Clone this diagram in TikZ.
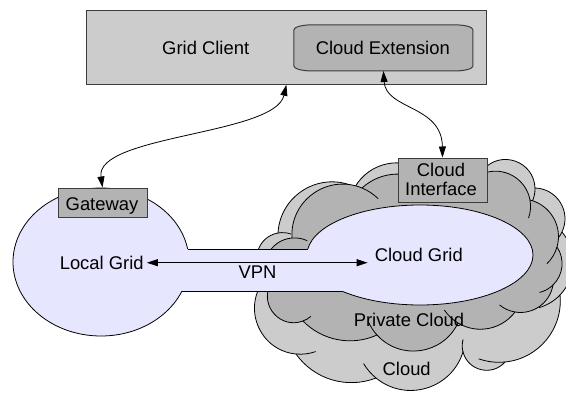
\documentclass[tikz,border=0pt]{standalone}
\usepackage{fontspec}
\setmainfont{Liberation Sans}
\usetikzlibrary{arrows.meta,shapes.geometric,calc}
\definecolor{paleGray}{HTML}{CCCCCC}
\definecolor{midGray}{HTML}{B3B3B3}
\definecolor{gridFill}{HTML}{E6E6FF}
\definecolor{boxEdge}{HTML}{3C3C3C}

% circular puff from #1 to #2, bulging to the left of travel by angle #3
\newcommand\puffseg[3]{.. controls ($(#1)!2/(3*(1+cos(#3)))!#3:(#2)$)
  and ($(#2)!2/(3*(1+cos(#3)))!-#3:(#1)$) .. (#2)}
% crease: the puff #1->#2 (bulge #3) carried on past #2 by an arc of #4 degrees
\newcommand\creaseFwd[4]{%
  \path ($(#2)!sin(#4/2)/sin(#3)!180-#3-#4/2:(#1)$) coordinate (creaseTip);
  \draw[cloudline] (#2) \puffseg{#2}{creaseTip}{#4/2};}
% crease: the puff #1->#2 (bulge #3) carried back before #1 by an arc of #4 degrees
\newcommand\creaseBwd[4]{%
  \path ($(#1)!sin(#4/2)/sin(#3)!#3+180+#4/2:(#2)$) coordinate (creaseTip);
  \draw[cloudline] (creaseTip) \puffseg{creaseTip}{#1}{#4/2};}

\begin{document}
\begin{tikzpicture}[x=1pt,y=-1pt,
  lbl/.style={font=\fontsize{18.4}{22}\selectfont, inner sep=0pt, anchor=base},
  graybox/.style={draw=boxEdge, line width=1pt, fill=midGray, inner sep=0pt},
  outline/.style={draw=black, line width=0.8pt},
  cloudline/.style={draw=black, line width=0.8pt},
  link/.style={line width=0.8pt,
    {Triangle[length=11pt,width=7pt]}-{Triangle[length=11pt,width=7pt]}},
]
\useasboundingbox (0,0) rectangle (566,394);

% ---- client box with the extension inside ----
\node[graybox, fill=paleGray, minimum width=399.3pt, minimum height=73.6pt] (client) at (286.35,47.5) {};
\node[lbl] (clientLabel) at (205.7,54.3) {Grid Client};
\node[inner sep=0pt, minimum width=178.7pt, minimum height=45.7pt] (ext) at (383.4,47.9) {};
\draw[boxEdge, line width=1pt, fill=midGray]
  ([yshift=-5pt]ext.north west) -- ([yshift=5pt]ext.south west)
  arc[start angle=180, end angle=270, x radius=18pt, y radius=5pt]
  -- ([xshift=-18pt]ext.south east)
  arc[start angle=270, end angle=360, x radius=18pt, y radius=5pt]
  -- ([yshift=-5pt]ext.north east)
  arc[start angle=0, end angle=90, x radius=18pt, y radius=5pt]
  -- ([xshift=18pt]ext.north west)
  arc[start angle=90, end angle=180, x radius=18pt, y radius=5pt] -- cycle;
\node[lbl] (extLabel) at (382.8,54.3) {Cloud Extension};

% ---- outer cloud ----
\coordinate (o1) at (296,354);  \coordinate (o2) at (266,278);
\coordinate (o3) at (278,233);  \coordinate (o4) at (355,187);
\coordinate (o5) at (425,172);  \coordinate (o6) at (483,170);
\coordinate (o7) at (535,188);  \coordinate (o8) at (562,232);
\coordinate (o9) at (560,295);  \coordinate (o10) at (505,362);
\coordinate (o11) at (463,352); \coordinate (o12) at (376,378);
\filldraw[cloudline, fill=paleGray] (o1) \puffseg{o1}{o2}{63} \puffseg{o2}{o3}{65}
  \puffseg{o3}{o4}{56} \puffseg{o4}{o5}{48} \puffseg{o5}{o6}{44} \puffseg{o6}{o7}{69}
  \puffseg{o7}{o8}{57} \puffseg{o8}{o9}{42} \puffseg{o9}{o10}{45} \puffseg{o10}{o11}{62}
  \puffseg{o11}{o12}{56} \puffseg{o12}{o1}{38} -- cycle;
\creaseFwd{o2}{o3}{65}{30}
\creaseFwd{o3}{o4}{56}{25}
\creaseFwd{o6}{o7}{69}{30}
\creaseFwd{o7}{o8}{57}{30}
\creaseFwd{o8}{o9}{42}{30}
\creaseFwd{o9}{o10}{45}{25}
\creaseFwd{o10}{o11}{62}{30}
\creaseFwd{o11}{o12}{56}{20}
\creaseBwd{o1}{o2}{63}{25}

% ---- private cloud ----
\coordinate (i1) at (303,321);  \coordinate (i2) at (270,285);
\coordinate (i3) at (292,238);  \coordinate (i4) at (362,188);
\coordinate (i5) at (430,185);  \coordinate (i6) at (488,172);
\coordinate (i7) at (530,200);  \coordinate (i8) at (557,247);
\coordinate (i9) at (553,285);  \coordinate (i10) at (515,312);
\coordinate (i11) at (458,323); \coordinate (i12) at (377,335);
\filldraw[cloudline, fill=midGray] (i1) \puffseg{i1}{i2}{68} \puffseg{i2}{i3}{60}
  \puffseg{i3}{i4}{58} \puffseg{i4}{i5}{40} \puffseg{i5}{i6}{40} \puffseg{i6}{i7}{46}
  \puffseg{i7}{i8}{46} \puffseg{i8}{i9}{40} \puffseg{i9}{i10}{45} \puffseg{i10}{i11}{42}
  \puffseg{i11}{i12}{56} \puffseg{i12}{i1}{35} -- cycle;
\creaseFwd{i2}{i3}{60}{30}
\creaseFwd{i3}{i4}{58}{22}
\creaseFwd{i6}{i7}{46}{30}
\creaseFwd{i7}{i8}{46}{30}
\creaseFwd{i8}{i9}{40}{30}
\creaseFwd{i9}{i10}{45}{30}
\creaseFwd{i10}{i11}{42}{25}
\creaseFwd{i11}{i12}{56}{18}
\creaseBwd{i1}{i2}{68}{20}

% ---- the two grids joined by the VPN tunnel ----
\node[ellipse, outline, fill=gridFill, minimum width=176pt, minimum height=148pt, inner sep=0pt] (local) at (101,262) {};
\node[ellipse, outline, fill=gridFill, minimum width=226pt, minimum height=100pt, inner sep=0pt] (cgrid) at (420,255) {};
\fill[gridFill] (150,249) rectangle (360,291);
\draw[outline] (187.6,249) -- (307.8,249);
\draw[outline] (182,291) -- (341.5,291);

\node[lbl, inner xsep=3pt] (lg) at (101.7,269.3) {Local Grid};
\node[lbl, inner xsep=7pt] (cg) at (418.8,261.7) {Cloud Grid};
\draw[link] (lg.east) -- (lg.east -| cg.west);
\node[lbl] (vpn) at (257.5,278) {VPN};

\node[lbl] (pcLabel) at (409,326.7) {Private Cloud};
\node[lbl] (cLabel) at (406.7,375.7) {Cloud};

% ---- gateway and cloud interface ----
\node[graybox, minimum width=89pt, minimum height=29pt] (gw) at (102.5,202.5) {};
\node[lbl] (gwLabel) at (102,210) {Gateway};
\node[graybox, minimum width=89pt, minimum height=44pt] (iface) at (442.5,180) {};
\node[lbl] (ifLabelA) at (441,176.7) {Cloud};
\node[lbl] (ifLabelB) at (441,195) {Interface};

% ---- management links ----
\draw[link] (client.south) .. controls (275,135) and (95,135) .. (gw.north);
\draw[link] (ext.south) .. controls (386,110) and (442,105) .. (iface.north);
\end{tikzpicture}
\end{document}
